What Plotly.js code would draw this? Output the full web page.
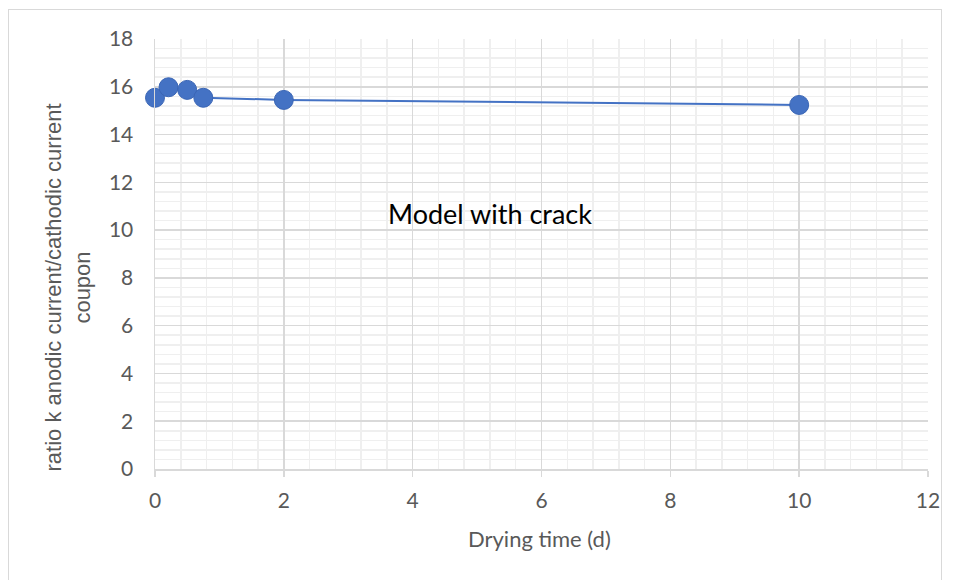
<!DOCTYPE html>
<html><head><meta charset="utf-8">
<script src="https://cdn.plot.ly/plotly-3.0.1.min.js"></script>
<style>
html,body{margin:0;padding:0;background:#fff;}
#wrap{position:relative;width:956px;height:580px;}
#chart{width:956px;height:580px;}
#frame{position:absolute;left:8px;top:9px;width:934px;height:580px;border:1.5px solid #d9d9d9;pointer-events:none;box-sizing:border-box;}
</style></head>
<body>
<div id="wrap"><div id="chart"></div><div id="frame"></div></div>
<script>
const dryingTime = [0, 0.21, 0.5, 0.75, 2, 10];
const ratioK = [15.54, 15.98, 15.87, 15.54, 15.45, 15.24];
const xTitle = "Drying time (d)";
const yTitle = "ratio k anodic current/cathodic current<br>coupon";
const label = "Model with crack";

const trace = {
  x: dryingTime, y: ratioK, type: 'scatter', mode: 'lines+markers',
  cliponaxis: false,
  line: {color: '#4472C4', width: 2},
  marker: {color: '#4472C4', size: 19, line: {color: '#3b66b5', width: 1}},
  hoverinfo: 'x+y'
};
const layout = {
  width: 956, height: 580,
  margin: {l: 155, r: 28, t: 39, b: 111},
  paper_bgcolor: '#fff', plot_bgcolor: '#fff',
  showlegend: false,
  xaxis: {
    range: [0, 12], dtick: 2, tick0: 0,
    showgrid: true, gridcolor: '#d9d9d9', gridwidth: 1.5,
    minor: {dtick: 0.4, showgrid: true, gridcolor: '#efefef', gridwidth: 1.5},
    showline: true, linecolor: '#d9d9d9', linewidth: 1.5,
    ticks: 'outside', ticklen: 6, tickcolor: '#d9d9d9', tickwidth: 1.5,
    zeroline: false, ticklabelstandoff: 6,
    tickfont: {family: 'Lato, sans-serif', size: 21, color: '#595959'},
    title: {text: ''}
  },
  yaxis: {
    range: [0, 18], dtick: 2, tick0: 0,
    showgrid: true, gridcolor: '#d9d9d9', gridwidth: 1.5,
    minor: {dtick: 0.4, showgrid: true, gridcolor: '#efefef', gridwidth: 1.5},
    showline: true, linecolor: '#d9d9d9', linewidth: 1.5,
    ticks: '', zeroline: false, ticklabelstandoff: 16,
    tickfont: {family: 'Lato, sans-serif', size: 21, color: '#595959'},
    title: {text: ''}
  },
  annotations: [
    {text: label, x: 5.2, y: 10.7, xref: 'x', yref: 'y', showarrow: false,
     font: {family: 'Lato, sans-serif', size: 27, color: '#000'}},
    {text: xTitle, x: 0.498, y: -0.125, xref: 'paper', yref: 'paper', showarrow: false,
     yanchor: 'top', font: {family: 'Lato, sans-serif', size: 22, color: '#595959'}},
    {text: yTitle, x: -0.112, y: 0.423, xref: 'paper', yref: 'paper', showarrow: false,
     textangle: -90, xanchor: 'center', yanchor: 'middle',
     font: {family: "'Liberation Sans', Arial, sans-serif", size: 22, color: '#595959'}}
  ]
};
Plotly.newPlot('chart', [trace], layout, {displayModeBar: false, staticPlot: true});
</script>
</body></html>
